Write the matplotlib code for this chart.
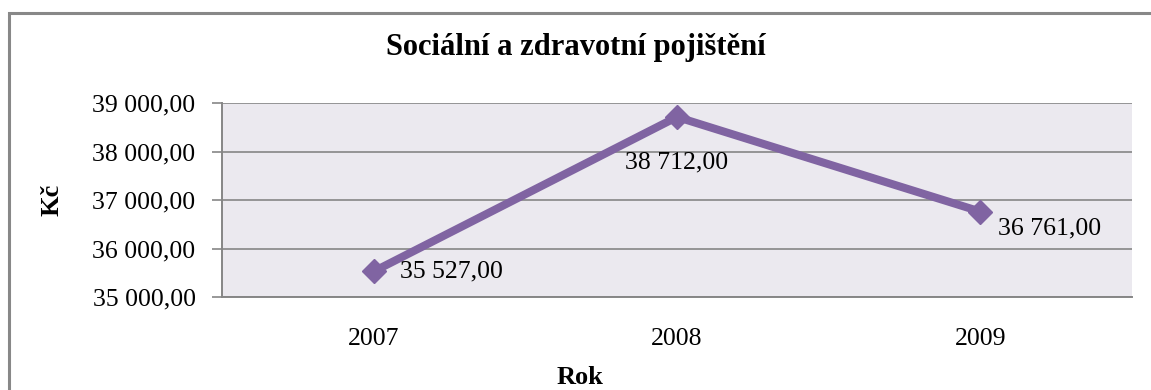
import matplotlib
matplotlib.use("Agg")
import matplotlib.pyplot as plt
from matplotlib.patches import Rectangle
from matplotlib.ticker import FixedLocator, FuncFormatter

# Data
years = ["2007", "2008", "2009"]
values = [35527.00, 38712.00, 36761.00]
y_ticks = [35000, 36000, 37000, 38000, 39000]

title = "Sociální a zdravotní pojištění"
x_label = "Rok"
y_label = "Kč"

LINE_COLOR = "#8064A2"
GRID_COLOR = "#868686"
BG_COLOR = "#EBE9EF"
SERIF = ["Liberation Serif", "DejaVu Serif"]
NUM_SIZE = 18.5


def cz_number(v):
    s = f"{v:,.2f}"
    return s.replace(",", " ").replace(".", ",")


W, H = 1151, 390
fig = plt.figure(figsize=(W / 100, H / 100), dpi=100)
plt.rcParams["font.family"] = SERIF

# Outer chart frame (continues past the right and bottom edges)
fig.patches.append(Rectangle((9 / W, -0.1), 1.2, (H - 13) / H + 0.1,
                             transform=fig.transFigure, fill=False,
                             edgecolor="#888888", linewidth=2.2, zorder=0))

left, right, top, bottom = 222, 1132, 103, 297
ax = fig.add_axes([left / W, (H - bottom) / H, (right - left) / W, (bottom - top) / H])
ax.set_facecolor(BG_COLOR)

x = list(range(len(years)))
ax.plot(x, values, color=LINE_COLOR, linewidth=5.8, marker="D",
        markersize=12, markerfacecolor=LINE_COLOR, markeredgecolor=LINE_COLOR,
        solid_joinstyle="miter", zorder=3, clip_on=False)

ax.set_xlim(-0.5, len(years) - 0.5)
ax.set_ylim(y_ticks[0], y_ticks[-1])
ax.yaxis.set_major_locator(FixedLocator(y_ticks))
ax.yaxis.set_major_formatter(FuncFormatter(lambda v, p: cz_number(v)))
ax.set_xticks(x)
ax.set_xticklabels(years)

ax.grid(axis="y", color=GRID_COLOR, linewidth=1.2, zorder=1)
ax.set_axisbelow(True)
for side in ("top", "right"):
    ax.spines[side].set_visible(False)
for side in ("left", "bottom"):
    ax.spines[side].set_color(GRID_COLOR)
    ax.spines[side].set_linewidth(1.4)

ax.tick_params(axis="y", length=7, width=1.2, color=GRID_COLOR, pad=12,
               labelsize=NUM_SIZE)
ax.tick_params(axis="x", length=0, pad=22, labelsize=NUM_SIZE)

# Data labels
offsets = [(19, 0, "left", "center"), (0, -33, "center", "center"), (13, -12, "left", "center")]
for xi, v, (dx, dy, ha, va) in zip(x, values, offsets):
    ax.annotate(cz_number(v), (xi, v), xytext=(dx, dy), textcoords="offset points",
                ha=ha, va=va, fontsize=NUM_SIZE, color="black")

fig.text(576 / W, 1 - 48 / H, title, ha="center", va="center",
         fontsize=22, fontweight="bold")
fig.text(580 / W, 1 - 377 / H, x_label, ha="center", va="center",
         fontsize=19, fontweight="bold")
fig.text(52 / W, 1 - 200 / H, y_label, ha="center", va="center",
         fontsize=19, fontweight="bold", rotation=90)

fig.savefig("out.png", dpi=100, facecolor="white")
